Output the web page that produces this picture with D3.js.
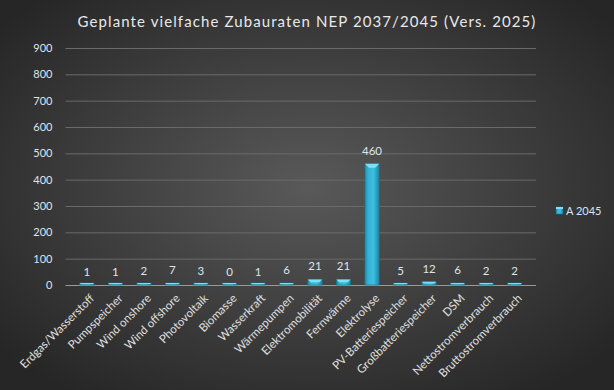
<!DOCTYPE html>
<html><head><meta charset="utf-8">
<script src="https://cdn.jsdelivr.net/npm/d3@7"></script>
<style>html,body{margin:0;padding:0;background:#333;}svg{display:block;}</style>
</head><body>
<script>
const categories = ["Erdgas/Wasserstoff","Pumpspeicher","Wind onshore","Wind offshore","Photovoltaik","Biomasse","Wasserkraft","Wärmepumpen","Elektromobilität","Fernwärme","Elektrolyse","PV-Batteriespeicher","Großbatteriespeicher","DSM","Nettostromverbrauch","Bruttostromverbrauch"];
const values = [1,1,2,7,3,0,1,6,21,21,460,5,12,6,2,2];
const yTicks = [0,100,200,300,400,500,600,700,800,900];
const seriesName = "A 2045";
const title = "Geplante vielfache Zubauraten NEP 2037/2045 (Vers. 2025)";

const W=614,H=390;
const m={left:65.5,right:78,top:48,bottom:105};
const svg=d3.select("body").append("svg").attr("width",W).attr("height",H);
const defs=svg.append("defs");
const rg=defs.append("radialGradient").attr("id","bg").attr("cx","50%").attr("cy","48%").attr("r","65%");
rg.append("stop").attr("offset","0%").attr("stop-color","#595959");
rg.append("stop").attr("offset","100%").attr("stop-color","#262626");
const bg=defs.append("linearGradient").attr("id","bar").attr("x1","0").attr("x2","1").attr("y1","0").attr("y2","0");
bg.append("stop").attr("offset","0%").attr("stop-color","#1f8fb0");
bg.append("stop").attr("offset","25%").attr("stop-color","#35b4d6");
bg.append("stop").attr("offset","60%").attr("stop-color","#3dbfe0");
bg.append("stop").attr("offset","100%").attr("stop-color","#1e86a6");

svg.append("rect").attr("width",W).attr("height",H).attr("fill","url(#bg)");

const x=d3.scaleBand().domain(categories).range([m.left,W-m.right]).padding(0.5);
const y=d3.scaleLinear().domain([0,900]).range([H-m.bottom,m.top]);

svg.append("text").attr("x",307).attr("y",27).attr("text-anchor","middle")
 .attr("fill","#e8e8e8").attr("font-family","Lato, 'Open Sans', sans-serif").attr("font-size",15)
 .attr("letter-spacing","1.1").text(title);

// grid
const gy=svg.append("g").attr("transform",`translate(${m.left},0)`)
 .call(d3.axisLeft(y).tickValues(yTicks).tickSize(-(W-m.right-m.left)).tickPadding(13));
gy.select(".domain").remove();
gy.selectAll(".tick line").attr("stroke","#6a6a6a").attr("stroke-width",1);
gy.selectAll(".tick").filter(d=>d===0).select("line").attr("stroke","#9a9a9a");
gy.selectAll(".tick text").attr("fill","#dde4ee").attr("font-family","Lato, sans-serif").attr("font-size",11);

// bars
const barTop=(i)=>Math.min(y(values[i]),y(0)-2);
const g=svg.append("g");
const bars=g.selectAll("g.b").data(categories).enter().append("g");
bars.append("rect")
 .attr("x",d=>x(d)).attr("width",x.bandwidth())
 .attr("y",(d,i)=>barTop(i)).attr("height",(d,i)=>y(0)-barTop(i))
 .attr("fill","url(#bar)").attr("stroke","#1a6f8a").attr("stroke-width",0.6);
bars.append("path")
 .attr("d",(d,i)=>{const x0=x(d),w=x.bandwidth(),t=barTop(i),h=Math.min(4,(y(0)-t)/2);
   return `M${x0},${t}L${x0+w},${t}L${x0+w-h},${t+h}L${x0+h},${t+h}Z`;})
 .attr("fill","#7fe0f5");

// value labels
svg.append("g").selectAll("text").data(categories).enter().append("text")
 .attr("x",d=>x(d)+x.bandwidth()/2).attr("y",(d,i)=>y(values[i])-9)
 .attr("text-anchor","middle").attr("fill","#dde4ee").attr("font-family","Lato, sans-serif").attr("font-size",11.5)
 .text((d,i)=>values[i]);

// x labels
const gx=svg.append("g").attr("transform",`translate(0,${y(0)})`)
 .call(d3.axisBottom(x).tickSize(0).tickPadding(0));
gx.select(".domain").remove();
gx.selectAll(".tick text").attr("fill","#e0e0e0").attr("font-family","Lato, sans-serif").attr("font-size",11.5)
 .attr("text-anchor","end").attr("dy",0).attr("transform","translate(8,14) rotate(-45)");

// legend
const lg=svg.append("g").attr("transform","translate(556,207)");
lg.append("rect").attr("width",7).attr("height",7).attr("fill","url(#bar)").attr("stroke","#1a6f8a").attr("stroke-width",0.5);
lg.append("rect").attr("width",7).attr("height",2).attr("fill","#7fe0f5");
lg.append("text").attr("x",10).attr("y",7.5).attr("fill","#dde4ee").attr("font-family","Lato, sans-serif").attr("font-size",11).text(seriesName);
</script>
</body></html>
